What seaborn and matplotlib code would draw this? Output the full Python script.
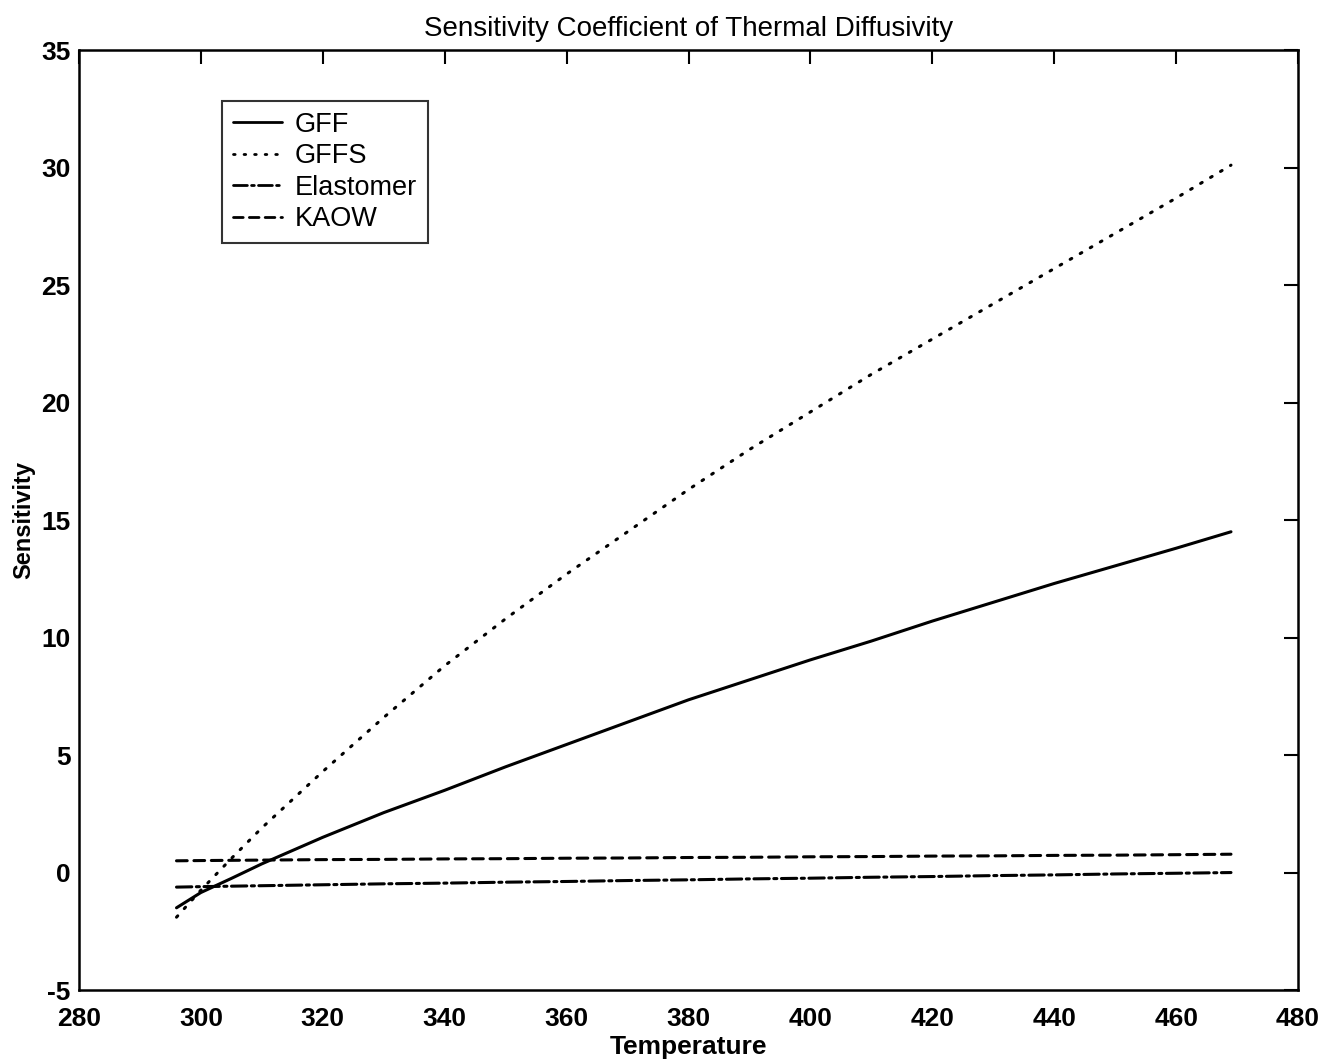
import matplotlib
matplotlib.use("Agg")
import matplotlib.pyplot as plt
import seaborn as sns
import pandas as pd

temperature = [296, 300, 305, 310, 320, 330, 340, 350, 360, 370, 380, 390,
               400, 410, 420, 430, 440, 450, 460, 469]
gff = [-1.5, -0.85, -0.25, 0.37, 1.5, 2.55, 3.5, 4.5, 5.45, 6.4, 7.35, 8.2,
       9.05, 9.85, 10.7, 11.5, 12.3, 13.05, 13.8, 14.5]
gffs = [-1.9, -0.75, 0.6, 1.9, 4.3, 6.6, 8.8, 10.8, 12.7, 14.5, 16.3, 18.0,
        19.6, 21.2, 22.7, 24.2, 25.7, 27.2, 28.7, 30.1]
elastomer = [-0.62, -0.6, -0.58, -0.56, -0.52, -0.48, -0.45, -0.41, -0.38, -0.34,
             -0.31, -0.27, -0.24, -0.2, -0.17, -0.13, -0.1, -0.06, -0.03, 0.0]
kaow = [0.5, 0.51, 0.52, 0.53, 0.55, 0.56, 0.58, 0.59, 0.61, 0.62,
        0.64, 0.65, 0.67, 0.68, 0.7, 0.71, 0.73, 0.74, 0.76, 0.78]

series_names = ["GFF", "GFFS", "Elastomer", "KAOW"]
title = "Sensitivity Coefficient of Thermal Diffusivity"
xticks = [280, 300, 320, 340, 360, 380, 400, 420, 440, 460, 480]
yticks = [-5, 0, 5, 10, 15, 20, 25, 30, 35]

df = pd.DataFrame({
    "Temperature": temperature * 4,
    "Sensitivity": gff + gffs + elastomer + kaow,
    "Series": sum([[n] * len(temperature) for n in series_names], []),
})

sns.set_theme(style="white")
plt.rcParams["font.family"] = ["Liberation Sans", "DejaVu Sans"]
plt.rcParams["axes.unicode_minus"] = False
plt.rcParams["text.color"] = "black"
plt.rcParams["axes.labelcolor"] = "black"

fig = plt.figure(figsize=(13.32, 10.64), dpi=100)
ax = fig.add_axes([0.0593, 0.0695, 0.9152, 0.8835])

dashes = {
    "GFF": "",
    "GFFS": (0.6, 3.2),
    "Elastomer": (5, 1.5, 1, 1.5),
    "KAOW": (3.5, 2.2),
}
sns.lineplot(data=df, x="Temperature", y="Sensitivity", hue="Series",
             style="Series", dashes=dashes,
             palette=["black"] * 4, linewidth=2.2, ax=ax, legend=True,
             sort=False)
for line in ax.get_lines():
    line.set_dash_capstyle("round")

ax.set_xlim(280, 480)
ax.set_ylim(-5, 35)
ax.set_xticks(xticks)
ax.set_yticks(yticks)
ax.tick_params(direction="in", length=10, width=1.5, top=True, right=True,
               labelsize=19, colors="black")
ax.tick_params(axis="x", pad=12)
ax.tick_params(axis="y", pad=6)
for lab in ax.get_xticklabels() + ax.get_yticklabels():
    lab.set_fontweight("bold")
for s in ax.spines.values():
    s.set_visible(True)
    s.set_color("black")
    s.set_linewidth(1.8)

ax.set_xlabel("Temperature", fontsize=19, fontweight="bold", labelpad=3)
ax.set_ylabel("Sensitivity", fontsize=17, fontweight="bold", labelpad=4)
ax.set_title(title, fontsize=20, pad=10)

handles, labels = ax.get_legend_handles_labels()
leg = ax.legend(handles, labels, loc="upper left", bbox_to_anchor=(0.1173, 0.9457),
                prop={"size": 19.5}, frameon=True, fancybox=False, edgecolor="black",
                handlelength=1.8, handletextpad=0.5, borderpad=0.4,
                labelspacing=0.2, borderaxespad=0)
leg.get_frame().set_linewidth(1.5)
for l in leg.get_lines():
    l.set_linewidth(2.0)

fig.savefig("out.png", dpi=100, facecolor="white")
